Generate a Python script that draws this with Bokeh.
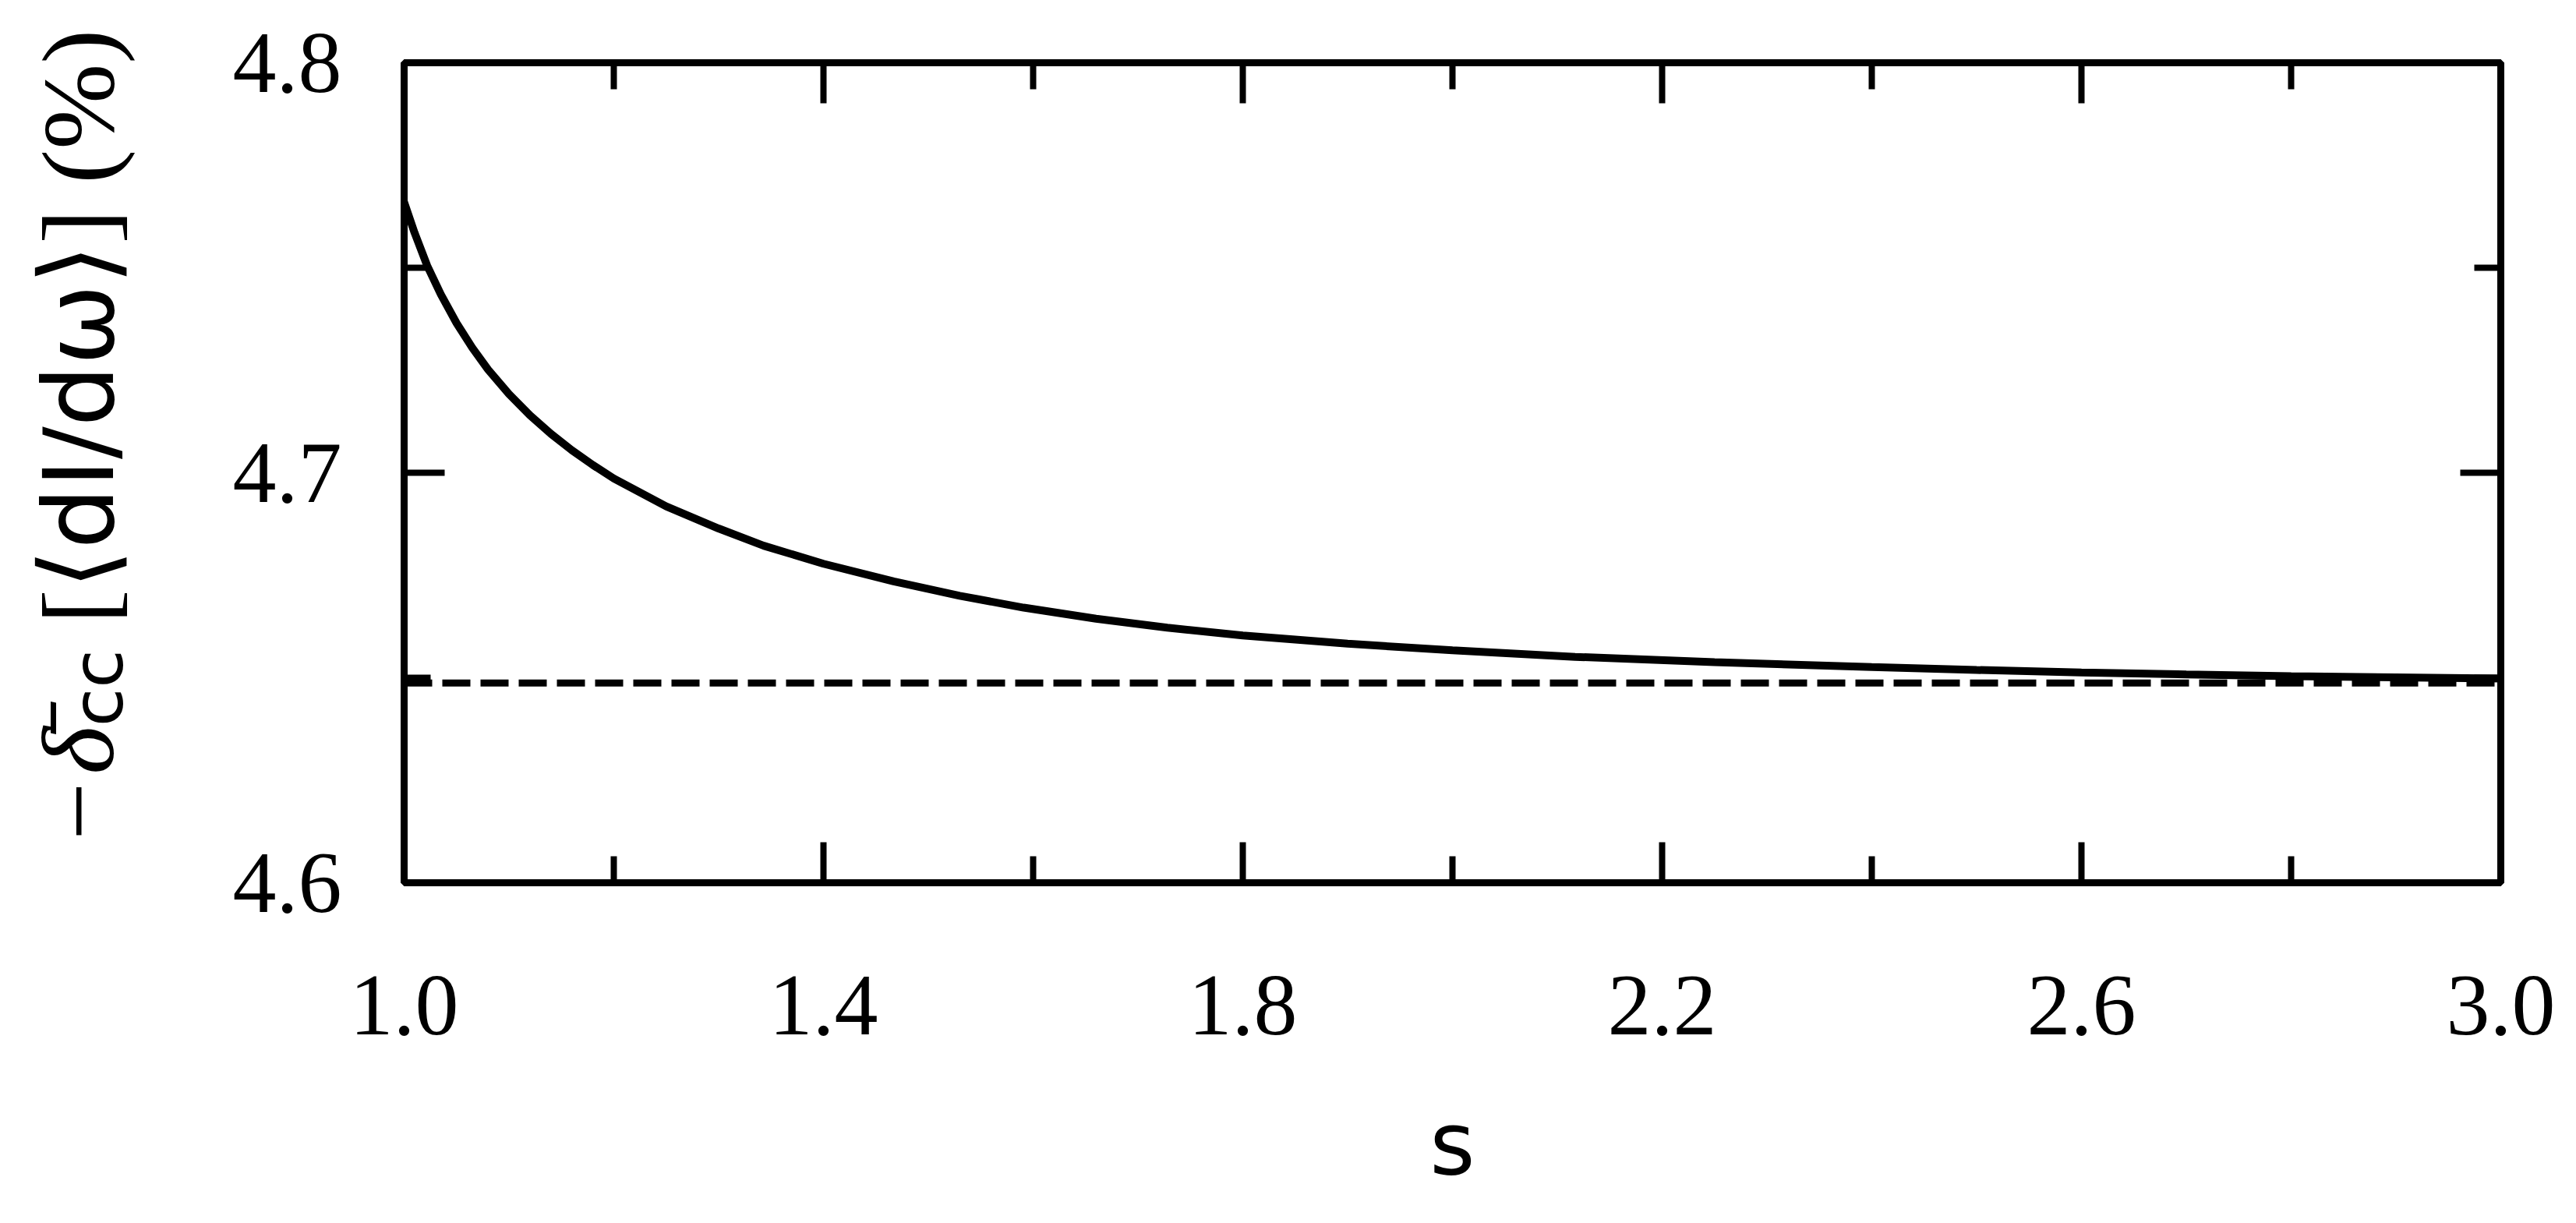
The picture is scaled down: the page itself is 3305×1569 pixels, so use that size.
from bokeh.plotting import figure
from bokeh.layouts import row
from bokeh.models import (Range1d, LinearAxis, FixedTicker, Div,
                          CustomJSTickFormatter, PrintfTickFormatter)
from bokeh.embed import file_html
from bokeh.resources import INLINE

# ---- data ----
s_values = [1.0, 1.01, 1.022, 1.035, 1.05, 1.065, 1.08, 1.1, 1.12, 1.14, 1.16,
            1.18, 1.2, 1.25, 1.3, 1.343, 1.4, 1.467, 1.53, 1.591, 1.66, 1.728,
            1.8, 1.9, 2.0, 2.117, 2.25, 2.4, 2.5, 2.6, 2.7, 2.8, 2.9, 3.0]
delta_values = [4.766, 4.7585, 4.7505, 4.7435, 4.7365, 4.7305, 4.7252, 4.7192,
                4.7140, 4.7095, 4.7055, 4.7019, 4.6986, 4.6918, 4.6864, 4.6822,
                4.6778, 4.6735, 4.6700, 4.6671, 4.6644, 4.6622, 4.6603, 4.6583,
                4.6567, 4.6551, 4.6538, 4.6526, 4.6519, 4.6513, 4.6508, 4.6504,
                4.6501, 4.6498]
limit_s = [1.0, 3.0]
limit_values = [4.6487, 4.6487]

x_major = [1.0, 1.4, 1.8, 2.2, 2.6, 3.0]
x_minor = [1.2, 1.6, 2.0, 2.4, 2.8]
y_major = [4.6, 4.7, 4.8]
y_minor = [4.65, 4.75]

x_title = "s"
y_title_parts = ["\u2212", "\u03b4\u0304", "cc", " [\u27e8", "dI/d\u03c9", "\u27e9] (%)"]

SERIF = "Liberation Serif"
SANS = "DejaVu Sans"

LABEL_W = 280
TOTAL_W = 3300
H = 1565

# ---- rotated, mixed-font y-axis title (real HTML text) ----
minus, delta, sub, lbr, mid, rbr = y_title_parts
title_html = (
    f'<div style="position:relative;width:{LABEL_W}px;height:{H}px;">'
    f'<div style="position:absolute;left:35px;top:1078px;transform:rotate(-90deg);'
    f'transform-origin:0 0;white-space:nowrap;line-height:132px;'
    f"font-family:'{SERIF}';font-size:132px;color:black;\">"
    f'<span>{minus}</span>'
    f'<span style="font-style:italic;margin-left:10px">{delta}</span>'
    f"<span style=\"font-family:'{SANS}';font-size:90px;vertical-align:-12px\">{sub}</span>"
    f'<span>{lbr}</span>'
    f"<span style=\"font-family:'{SANS}';font-size:124px\">{mid}</span>"
    f'<span>{rbr}</span>'
    f'</div></div>'
)
ytitle = Div(text=title_html, width=LABEL_W, height=H, margin=0)

# ---- main plot ----
p = figure(width=TOTAL_W - LABEL_W, height=H, output_backend="svg",
           toolbar_location=None,
           x_range=Range1d(1.0, 3.0), y_range=Range1d(4.6, 4.8),
           min_border_left=518 - LABEL_W, min_border_right=92, min_border_top=80,
           min_border_bottom=H - 1132)
p.background_fill_color = "white"
p.border_fill_color = "white"
p.xgrid.grid_line_color = None
p.ygrid.grid_line_color = None
p.outline_line_color = "black"
p.outline_line_width = 9
p.outline_line_alpha = 1.0

p.line(s_values, delta_values, line_color="black", line_width=10)
p.line(limit_s, limit_values, line_color="black", line_width=9, line_dash="36 13")

blank = CustomJSTickFormatter(code="return ''")
top_axis = LinearAxis(ticker=FixedTicker(ticks=x_major, minor_ticks=x_minor),
                      formatter=blank)
right_axis = LinearAxis(ticker=FixedTicker(ticks=y_major, minor_ticks=y_minor),
                        formatter=blank)
p.add_layout(top_axis, "above")
p.add_layout(right_axis, "right")

bx = p.below[0]
ly = p.left[0]
bx.ticker = FixedTicker(ticks=x_major, minor_ticks=x_minor)
ly.ticker = FixedTicker(ticks=y_major, minor_ticks=y_minor)

for ax in (bx, ly, top_axis, right_axis):
    ax.axis_line_color = None
    ax.major_tick_in = 52
    ax.major_tick_out = 0
    ax.minor_tick_in = 34
    ax.minor_tick_out = 0
    ax.major_tick_line_color = "black"
    ax.minor_tick_line_color = "black"
    ax.major_tick_line_width = 8
    ax.minor_tick_line_width = 8
    ax.major_label_text_font = SERIF
    ax.major_label_text_font_size = "112px"
    ax.major_label_text_color = "black"

bx.formatter = PrintfTickFormatter(format="%.1f")
bx.major_label_standoff = 120
bx.axis_label = x_title
bx.axis_label_text_font = SANS
bx.axis_label_text_font_size = "112px"
bx.axis_label_text_font_style = "normal"
bx.axis_label_text_color = "black"
bx.axis_label_standoff = 72

ly.formatter = PrintfTickFormatter(format="%.1f")
ly.major_label_standoff = 80

for ax in (top_axis, right_axis):
    ax.major_label_standoff = 0
    ax.major_label_text_font_size = "1px"

layout = row(ytitle, p, spacing=0)
open("out.html", "w").write(file_html(layout, INLINE))
